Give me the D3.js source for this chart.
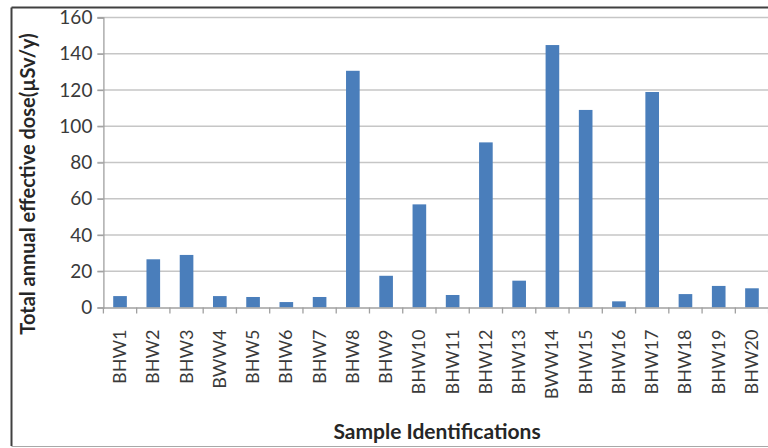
<!DOCTYPE html>
<html>
<head>
<meta charset="utf-8">
<script src="https://cdn.jsdelivr.net/npm/d3@7"></script>
<style>
  body { margin: 0; background: #fff; }
  svg { display: block; }
</style>
</head>
<body>
<svg id="chart" width="768" height="448"></svg>
<script>
const categories = ["BHW1","BHW2","BHW3","BWW4","BHW5","BHW6","BHW7","BHW8","BHW9","BHW10",
                    "BHW11","BHW12","BHW13","BWW14","BHW15","BHW16","BHW17","BHW18","BHW19","BHW20"];
const doseValues = [6.3, 26.6, 29.0, 6.3, 5.8, 3.0, 5.8, 130.6, 17.5, 56.9,
                    6.9, 91.1, 14.8, 144.8, 109.0, 3.4, 118.9, 7.4, 11.9, 10.6];
const yTicks = [0, 20, 40, 60, 80, 100, 120, 140, 160];
const yTitle = "Total annual effective dose(µSv/y)";
const xTitle = "Sample Identifications";

const svg = d3.select("#chart");
const plotLeft = 103.4, plotRight = 768.6, plotTop = 17.5, plotBottom = 307.5;
const fontFam = "Lato, 'Open Sans', sans-serif";

const x = d3.scaleBand().domain(categories).range([plotLeft, plotRight])
  .paddingInner(0.59).paddingOuter(0.295);
const y = d3.scaleLinear().domain([0, 160]).range([plotBottom, plotTop]);

// frame
svg.append("line").attr("x1", 11.5).attr("x2", 768).attr("y1", 7.5).attr("y2", 7.5)
  .attr("stroke", "#404040").attr("stroke-width", 2);
svg.append("line").attr("x1", 11.5).attr("x2", 11.5).attr("y1", 7.5).attr("y2", 446)
  .attr("stroke", "#404040").attr("stroke-width", 2);
svg.append("line").attr("x1", 11.5).attr("x2", 768).attr("y1", 446.5).attr("y2", 446.5)
  .attr("stroke", "#a8a8a8").attr("stroke-width", 1);

// gridlines
svg.append("g").selectAll("line").data(yTicks.filter(d => d > 0)).join("line")
  .attr("x1", plotLeft - 6).attr("x2", 768)
  .attr("y1", d => y(d)).attr("y2", d => y(d))
  .attr("stroke", "#c6c6c6").attr("stroke-width", 1.6);

// y axis
const yAxis = svg.append("g").attr("transform", `translate(${plotLeft},0)`)
  .call(d3.axisLeft(y).tickValues(yTicks).tickSize(6).tickPadding(5));
yAxis.select(".domain").attr("stroke", "#a0a0a0").attr("stroke-width", 1.3);
yAxis.selectAll(".tick line").attr("stroke", "#a0a0a0").attr("stroke-width", 1.3);
yAxis.selectAll("text").attr("font-family", fontFam)
  .attr("font-size", 19).attr("fill", "#3a3a3a");

// bars
svg.append("g").selectAll("rect").data(categories).join("rect")
  .attr("x", d => x(d)).attr("width", x.bandwidth())
  .attr("y", (d, i) => y(doseValues[i]))
  .attr("height", (d, i) => y(0) - y(doseValues[i]))
  .attr("fill", "#4a7ebb");

// x axis
const xAxis = svg.append("g").attr("transform", `translate(0,${plotBottom})`)
  .call(d3.axisBottom(x).tickSize(0).tickPadding(0));
xAxis.select(".domain").attr("stroke", "#a0a0a0").attr("stroke-width", 1.3);
const step = x.step();
svg.append("g").selectAll("line").data(d3.range(categories.length + 1)).join("line")
  .attr("x1", i => plotLeft + i * step).attr("x2", i => plotLeft + i * step)
  .attr("y1", plotBottom).attr("y2", plotBottom + 6)
  .attr("stroke", "#a0a0a0").attr("stroke-width", 1.3);
xAxis.selectAll(".tick text")
  .attr("font-family", fontFam)
  .attr("font-size", 18).attr("fill", "#3a3a3a")
  .attr("text-anchor", "end")
  .attr("dy", null)
  .attr("transform", "translate(6,22) rotate(-90)");

// axis titles
svg.append("text")
  .attr("transform", `translate(35,184) rotate(-90)`)
  .attr("text-anchor", "middle")
  .attr("font-family", fontFam)
  .attr("font-weight", "bold").attr("font-size", 20).attr("fill", "#262626")
  .text(yTitle);
svg.append("text")
  .attr("x", 437).attr("y", 439)
  .attr("text-anchor", "middle")
  .attr("font-family", fontFam)
  .attr("font-weight", "bold").attr("font-size", 21).attr("fill", "#262626")
  .text(xTitle);
</script>
</body>
</html>
